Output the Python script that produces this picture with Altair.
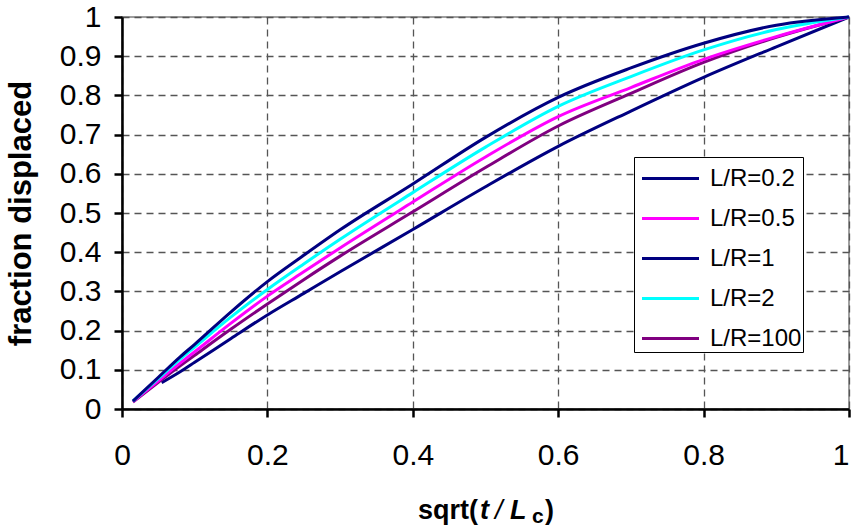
import altair as alt
import pandas as pd

# ---- data ----
series_names = ["L/R=0.2", "L/R=0.5", "L/R=1", "L/R=2", "L/R=100"]
series_colors = ["#000080", "#FF00FF", "#000080", "#00FFFF", "#800080"]

x_main = [0.015, 0.05, 0.08, 0.1, 0.15, 0.2, 0.25, 0.3, 0.4, 0.5, 0.6, 0.7, 0.8, 0.9, 1.0]
y_lr1 = [0.020, 0.081, 0.133, 0.165, 0.248, 0.325, 0.392, 0.457, 0.574, 0.693, 0.795, 0.870, 0.933, 0.979, 1.0]
y_lr2 = [0.020, 0.078, 0.127, 0.158, 0.235, 0.305, 0.370, 0.433, 0.552, 0.668, 0.772, 0.848, 0.916, 0.968, 1.0]
y_lr05 = [0.019, 0.072, 0.117, 0.146, 0.219, 0.288, 0.350, 0.411, 0.528, 0.643, 0.746, 0.820, 0.892, 0.950, 1.0]
y_lr100 = [0.018, 0.068, 0.110, 0.137, 0.204, 0.268, 0.330, 0.390, 0.503, 0.616, 0.722, 0.805, 0.884, 0.948, 1.0]
x_lr02 = [0.0545, 0.08, 0.1, 0.15, 0.2, 0.25, 0.3, 0.4, 0.5, 0.6, 0.7, 0.8, 0.9, 1.0]
y_lr02 = [0.067, 0.095, 0.119, 0.180, 0.240, 0.295, 0.350, 0.458, 0.567, 0.670, 0.760, 0.846, 0.924, 1.0]

x_ticks = [0, 0.2, 0.4, 0.6, 0.8, 1]
y_ticks = [0, 0.1, 0.2, 0.3, 0.4, 0.5, 0.6, 0.7, 0.8, 0.9, 1]

y_title = "fraction displaced"
x_title_parts = ["sqrt(", "t", "/", "L", "c", ")"]

FONT = "Liberation Sans"

frames = [
    pd.DataFrame({"series": "L/R=0.2", "x": x_lr02, "y": y_lr02}),
    pd.DataFrame({"series": "L/R=100", "x": x_main, "y": y_lr100}),
    pd.DataFrame({"series": "L/R=0.5", "x": x_main, "y": y_lr05}),
    pd.DataFrame({"series": "L/R=2", "x": x_main, "y": y_lr2}),
    pd.DataFrame({"series": "L/R=1", "x": x_main, "y": y_lr1}),
]
df = pd.concat(frames, ignore_index=True)

lines = alt.Chart(df).mark_line(strokeWidth=3, interpolate="monotone").encode(
    x=alt.X("x:Q",
            scale=alt.Scale(domain=[0, 1], nice=False),
            axis=alt.Axis(values=x_ticks, format="~g", title=None, labelPadding=23,
                          labelFlush=False,
                          labelAlign=alt.ExprRef("datum.value >= 1 ? 'right' : 'center'"))),
    y=alt.Y("y:Q",
            scale=alt.Scale(domain=[0, 1], nice=False),
            axis=alt.Axis(values=y_ticks, format="~g", title=y_title, labelPadding=13,
                          labelFlush=False, titleFontSize=31,
                          titleX=-101, titleY=196, titleAngle=270,
                          titleBaseline="middle", titleAlign="center")),
    color=alt.Color("series:N",
                    scale=alt.Scale(domain=series_names, range=series_colors),
                    legend=alt.Legend(orient="none", legendX=512, legendY=140, title=None,
                                      symbolType="M-1.5,0H1.5", symbolSize=1444,
                                      symbolStrokeWidth=3, padding=1, rowPadding=7,
                                      labelFontSize=24, labelFont=FONT, labelColor="black",
                                      strokeColor="black", fillColor="white",
                                      symbolOffset=15, labelOffset=19)),
    order=alt.value(0),
)


def piece(txt, x, y, size, weight="bold", style="normal"):
    return alt.Chart(pd.DataFrame({"t": [txt]})).mark_text(
        align="left", baseline="alphabetic", font=FONT, fontSize=size,
        fontWeight=weight, fontStyle=style, color="black"
    ).encode(x=alt.value(x), y=alt.value(y), text="t:N")


title_layers = [
    piece(x_title_parts[0], 418 - 122, 502, 27),
    piece(x_title_parts[1], 480 - 122, 502, 27, style="italic"),
    piece(x_title_parts[2], 495 - 122, 502, 27, weight="normal", style="italic"),
    piece(x_title_parts[3], 510 - 122, 502, 27, style="italic"),
    piece(x_title_parts[4], 532 - 122, 506, 21),
    piece(x_title_parts[5], 545 - 122, 502, 27),
]

chart = alt.layer(lines, *title_layers).properties(
    width=727, height=392,
    autosize=alt.AutoSizeParams(type="none"),
    padding={"left": 122, "top": 17, "right": 2, "bottom": 122},
    background="white",
).configure_view(
    stroke="#808080", strokeWidth=1.5
).configure_axis(
    domainColor="black", domainWidth=2.5,
    tickColor="black", tickWidth=2.5, tickSize=8,
    labelFont=FONT, labelFontSize=30, labelColor="black",
    grid=True, gridColor="#555555", gridDash=[7, 5], gridWidth=1.3,
    titleFont=FONT, titleFontSize=28, titleFontWeight="bold", titleColor="black",
)

chart.save("out.html", embed_options={"renderer": "svg", "actions": False})
